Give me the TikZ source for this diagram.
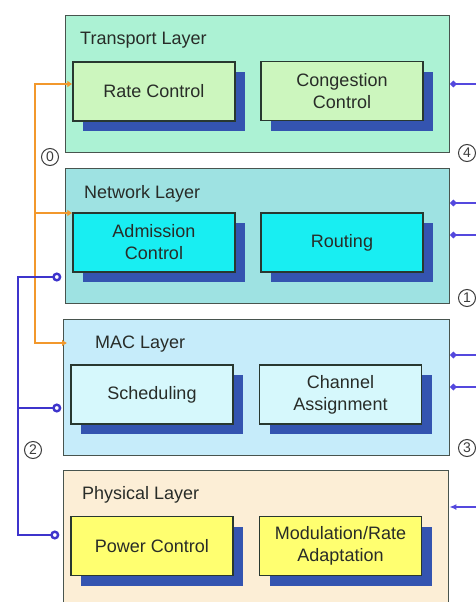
\documentclass[tikz,border=0pt]{standalone}
\usepackage{fontspec}
\setmainfont{Liberation Sans}
\usetikzlibrary{shadows,arrows.meta}
\definecolor{tlfill}{RGB}{172,242,212}
\definecolor{nlfill}{RGB}{158,226,226}
\definecolor{mlfill}{RGB}{198,236,250}
\definecolor{plfill}{RGB}{252,238,214}
\definecolor{rcfill}{RGB}{204,246,190}
\definecolor{acfill}{RGB}{24,238,242}
\definecolor{scfill}{RGB}{214,248,252}
\definecolor{pcfill}{RGB}{255,255,112}
\definecolor{shadowblue}{RGB}{52,84,176}
\definecolor{layerborder}{RGB}{72,84,78}
\definecolor{boxborder}{RGB}{40,56,48}
\definecolor{oline}{RGB}{242,152,44}
\definecolor{bline}{RGB}{62,52,204}
\definecolor{rline}{RGB}{84,72,222}
\definecolor{numcol}{RGB}{60,60,60}
\definecolor{txtcol}{RGB}{40,44,40}
\begin{document}
\begin{tikzpicture}[x=1pt,y=-1pt,
  layer/.style={draw=layerborder, line width=1.4pt, anchor=north west, inner sep=0pt},
  blk/.style={draw=boxborder, line width=1.4pt, minimum width=162pt, minimum height=59pt,
    align=center, text=txtcol, font=\fontsize{18}{22}\selectfont,
    drop shadow={shadow xshift=10pt, shadow yshift=-10pt, fill=shadowblue, opacity=1}},
  lbl/.style={anchor=base west, inner sep=0pt, text=txtcol, font=\fontsize{18}{22}\selectfont},
  num/.style={circle, draw=numcol, line width=1pt, inner sep=0pt, minimum size=17pt,
    text=numcol, font=\fontsize{14}{14}\selectfont},
  oconn/.style={draw=oline, line width=2.6pt},
  bconn/.style={draw=bline, line width=2.4pt},
  rconn/.style={draw=rline, line width=2.4pt}]
\useasboundingbox (0,0) rectangle (476,602);
\fill[white] (0,0) rectangle (476,602);
% layers
\node[layer, fill=tlfill, minimum width=384pt, minimum height=137pt] (tl) at (65,15) {};
\node[layer, fill=nlfill, minimum width=384pt, minimum height=135pt] (nl) at (65,168) {};
\node[layer, fill=mlfill, minimum width=386pt, minimum height=136pt] (ml) at (63,319) {};
\node[layer, fill=plfill, minimum width=385pt, minimum height=150pt] (pl) at (63,470) {};
% labels
\node[lbl] (tlt) at (80,45) {Transport Layer};
\node[lbl] (nlt) at (84,198) {Network Layer};
\node[lbl] (mlt) at (95,348) {MAC Layer};
\node[lbl] (plt) at (82,499) {Physical Layer};
% blocks
\node[blk, fill=rcfill] (rc) at (154,91.5) {Rate Control};
\node[blk, fill=rcfill] (cc) at (342,91) {Congestion\\Control};
\node[blk, fill=acfill] (ac) at (154,242.5) {Admission\\Control};
\node[blk, fill=acfill] (ro) at (342,242.5) {Routing};
\node[blk, fill=scfill] (sc) at (152,394.5) {Scheduling};
\node[blk, fill=scfill] (ca) at (340.5,394.5) {Channel\\Assignment};
\node[blk, fill=pcfill] (pc) at (152,546) {Power Control};
\node[blk, fill=pcfill] (mr) at (340.5,546) {Modulation/Rate\\Adaptation};
% orange connectors
\coordinate (o1) at (35,84);
\coordinate (o2) at (35,213);
\coordinate (o3) at (35,343);
\draw[oconn, line join=miter, {Latex[length=5pt,width=7pt]}-{Latex[length=5pt,width=7pt]}]
  (o1 -| rc.west) -- (o1) -- (o3) -- ([xshift=4pt]o3 -| ml.west);
\draw[oconn, -{Latex[length=5pt,width=7pt]}] (o2) -- (o2 -| ac.west);
% blue connectors
\coordinate (b1) at (18,277);
\coordinate (b2) at (18,408);
\coordinate (b3) at (18,535);
\draw[bconn, line join=miter, shorten <=11pt, shorten >=11pt,
  {Circle[open,length=9pt,width=9pt]}-{Circle[open,length=9pt,width=9pt]}]
  (b1 -| ac.west) -- (b1) -- (b3) -- (b3 -| pc.west);
\draw[bconn, shorten >=9pt, -{Circle[open,length=9pt,width=9pt]}] (b2) -- (b2 -| sc.west);
% right connectors
\coordinate (r1) at (476,84);
\coordinate (r2) at (476,203);
\coordinate (r3) at (476,235);
\coordinate (r4) at (476,355);
\coordinate (r5) at (476,387);
\coordinate (r6) at (476,507);
\draw[rconn, -{Circle[length=6pt]}] (r1) -- (r1 -| tl.east);
\draw[rconn, -{Circle[length=6pt]}] (r2) -- (r2 -| nl.east);
\draw[rconn, -{Circle[length=6pt]}] (r3) -- (r3 -| nl.east);
\draw[rconn, -{Circle[length=6pt]}] (r4) -- (r4 -| ml.east);
\draw[rconn, -{Circle[length=6pt]}] (r5) -- (r5 -| ml.east);
\draw[rconn, -{Latex[length=7pt,width=6pt]}] (r6) -- (r6 -| pl.east);
% circled numbers
\node[num] (n0) at (50,157) {0};
\node[num] (n4) at (467,153) {4};
\node[num] (n1) at (467,298) {1};
\node[num] (n3) at (467,448) {3};
\node[num] (n2) at (33,450) {2};
\end{tikzpicture}
\end{document}
